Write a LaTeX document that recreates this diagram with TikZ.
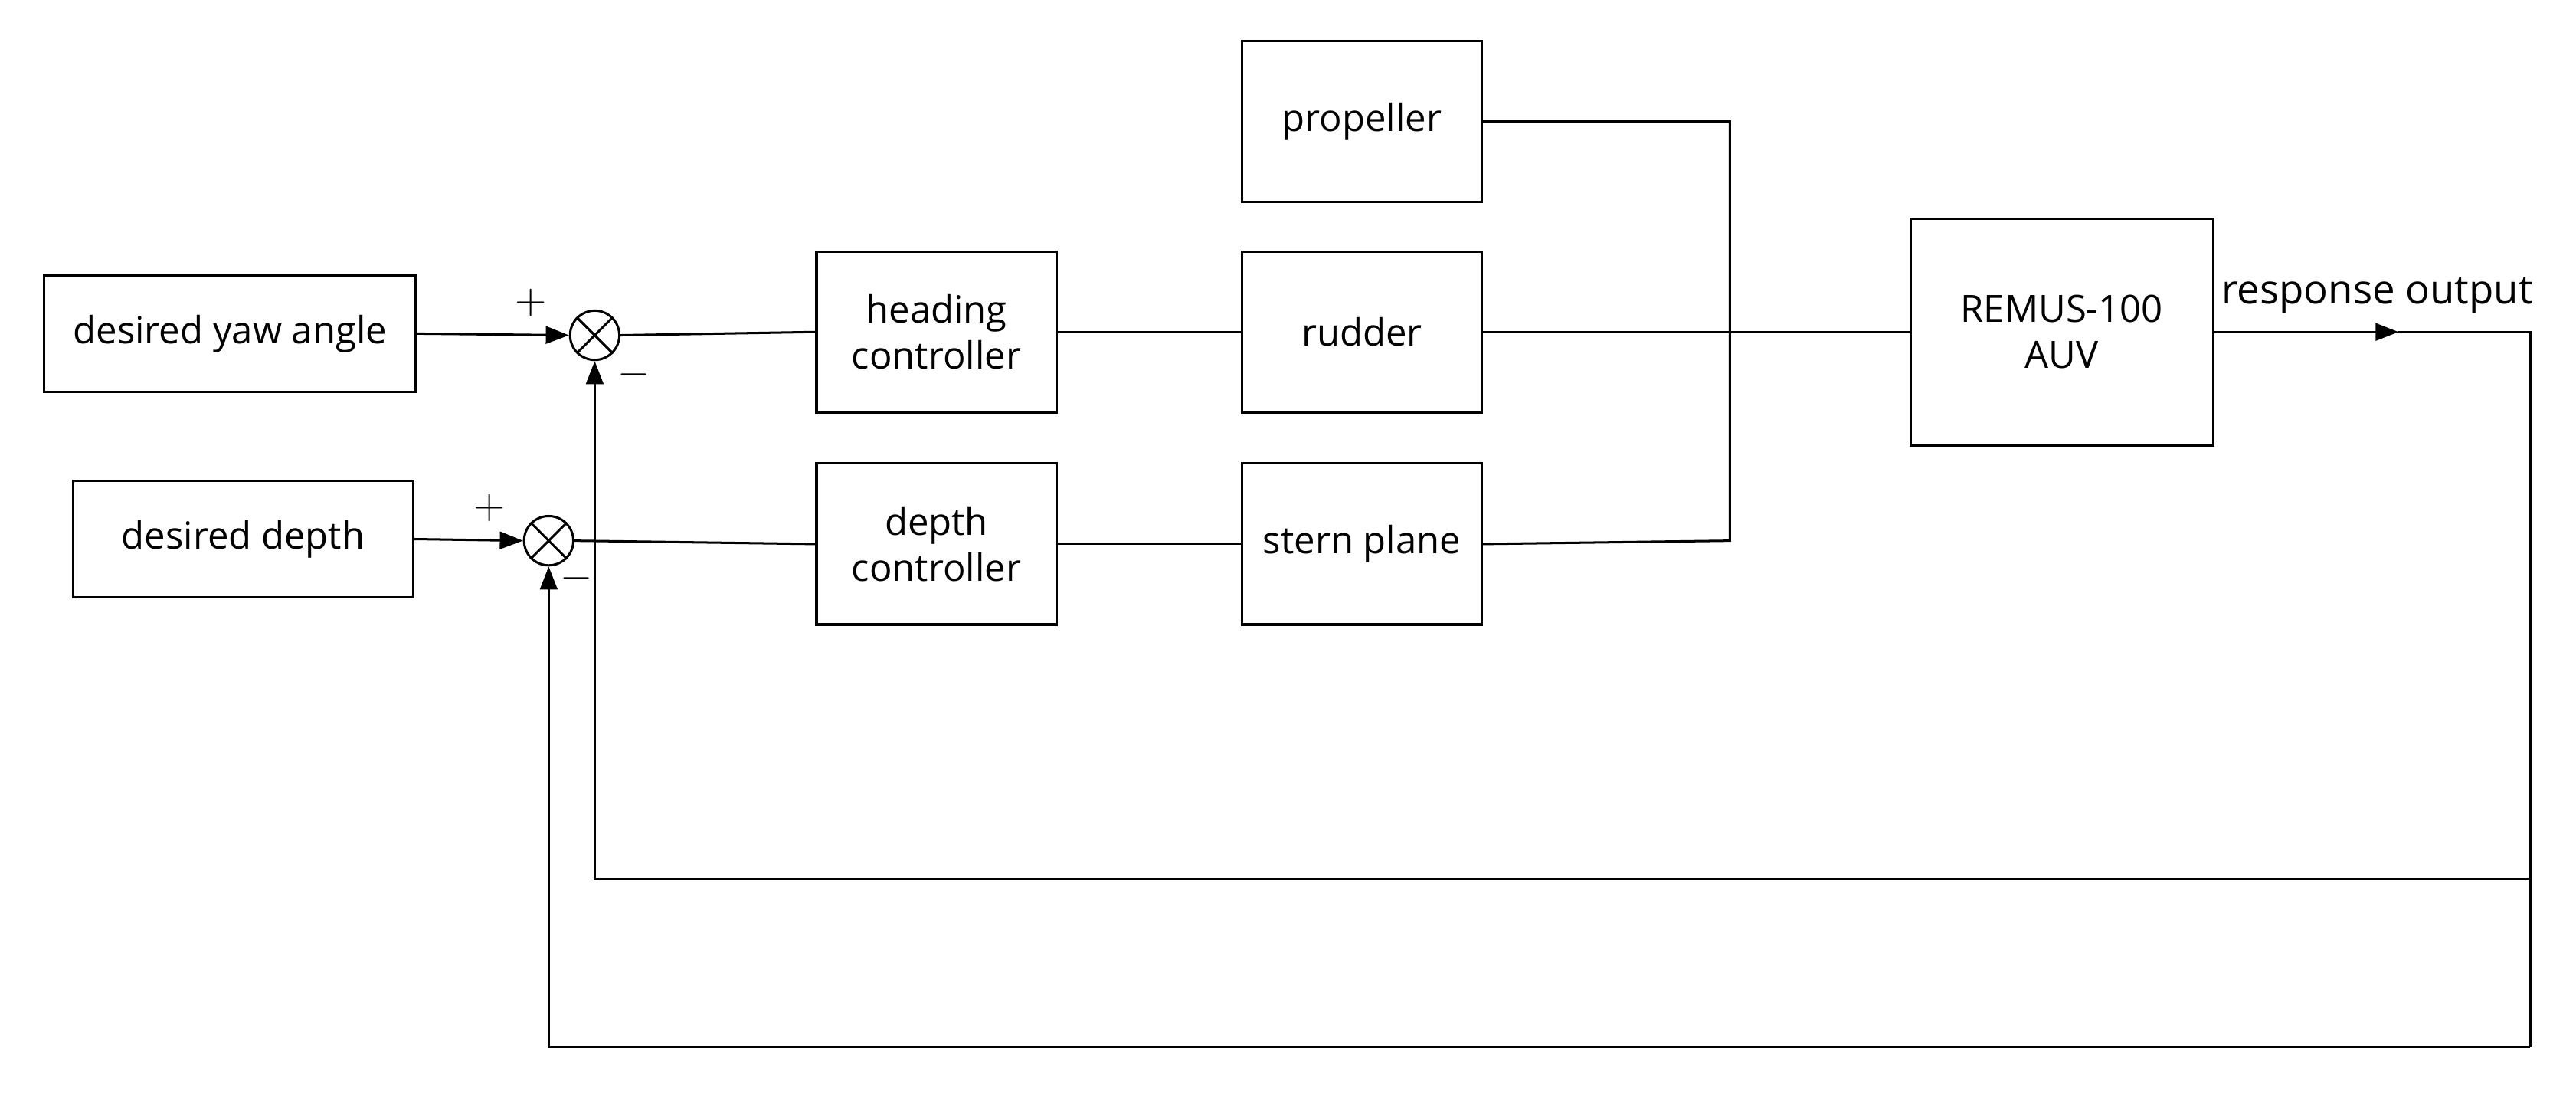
\documentclass[tikz,border=0pt]{standalone}
\usepackage{fontspec}
\setmainfont{Open Sans}
\usetikzlibrary{arrows.meta,shapes.misc}
\tikzset{
  blk/.style={draw, thick, minimum width=2.92cm, minimum height=1.96cm, align=center, font=\fontsize{13}{16}\selectfont},
  sum/.style={draw, thick, cross out, circle, minimum size=0.6cm, inner sep=0pt},
  sumc/.style={draw, thick, circle, minimum size=0.6cm, inner sep=0pt},
  sig/.style={thick, -{Triangle[length=8pt,width=6pt]}},
  lbl/.style={font=\fontsize{14}{16}\selectfont}
}
\begin{document}
\begin{tikzpicture}[x=0.02cm,y=-0.02cm]
\useasboundingbox (0,0) rectangle (1568,666);
%blocks
\node [blk, minimum width=4.52cm, minimum height=1.42cm] (yaw) at (140,203) {desired yaw angle};
\node [blk, minimum width=4.14cm, minimum height=1.42cm] (depth) at (148,328) {desired depth};
\node [blk] (hc) at (570,202) {heading\\controller};
\node [blk] (dc) at (570,331) {depth\\controller};
\node [blk] (prop) at (829,74) {propeller};
\node [blk] (rud) at (829,202) {rudder};
\node [blk] (stern) at (829,331) {stern plane};
\node [blk, minimum width=3.68cm, minimum height=2.76cm] (auv) at (1255,202) {REMUS-100\\AUV};
%summers
\node [sumc] (s1) at (362,204) {};
\draw [thick] (s1.45) -- (s1.225) (s1.135) -- (s1.315);
\node [sumc] (s2) at (334,329) {};
\draw [thick] (s2.45) -- (s2.225) (s2.135) -- (s2.315);
\node [lbl] at (323,184) {$+$};
\node [lbl] at (386,228) {$-$};
\node [lbl] at (298,309) {$+$};
\node [lbl] at (351,352) {$-$};
%coordinates
\coordinate (o) at (1540,202);
\coordinate (om) at (1460,202);
\coordinate (f1) at (1540,535);
\coordinate (f2) at (1540,637);
\coordinate (j) at (1053,74);
\coordinate (k) at (1053,329);
%lines
\draw [sig] (yaw.east) -- (s1.west);
\draw [sig] (depth.east) -- (s2.west);
\draw [thick] (s1.east) -- (hc.west);
\draw [thick] (s2.east) -- (dc.west);
\draw [thick] (hc.east) -- (rud.west);
\draw [thick] (dc.east) -- (stern.west);
\draw [thick] (rud.east) -- (auv.west);
\draw [thick] (prop.east) -- (j) -- (k) -- (stern.east);
\draw [sig] (auv.east) -- (om);
\draw [thick] (om) -- (o) -- (f2);
\draw [sig] (f1) -| (s1.south);
\draw [sig] (f2) -| (s2.south);
\node [lbl, anchor=south] at (1447,197) {response output};
\end{tikzpicture}
\end{document}
